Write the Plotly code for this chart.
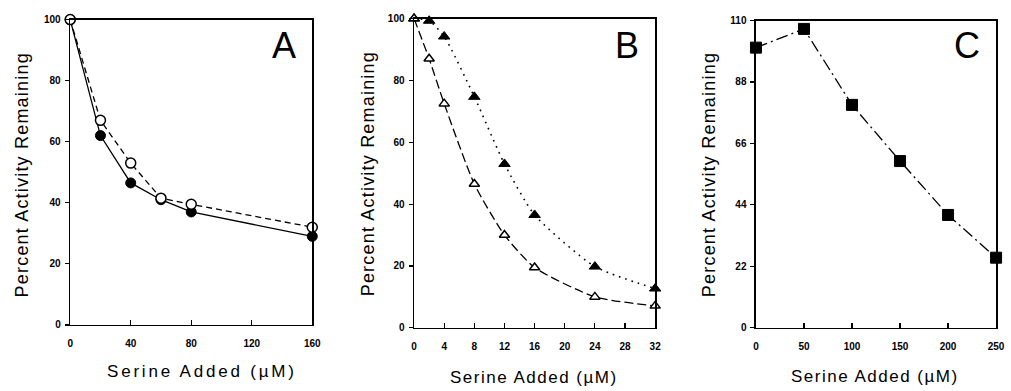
import plotly.graph_objects as go

# ---------------- data ----------------
# Panel A
a_serine = [0, 20, 40, 60, 80, 160]
a_filled = [100, 62, 46.5, 41, 37, 29]
a_open = [100, 67, 53, 41.5, 39.5, 32]
a_xticks = [0, 40, 80, 120, 160]
a_yticks = [0, 20, 40, 60, 80, 100]

# Panel B
b_serine = [0, 2, 4, 8, 12, 16, 24, 32]
b_filled = [100, 99.3, 94.2, 74.7, 53, 36.5, 19.8, 12.7]
b_open = [100, 87, 72.5, 46.5, 30, 19.5, 10, 7.1]
b_xticks = [0, 4, 8, 12, 16, 20, 24, 28, 32]
b_yticks = [0, 20, 40, 60, 80, 100]

# Panel C
c_serine = [0, 50, 100, 150, 200, 250]
c_filled = [100.3, 107, 79.8, 59.7, 40.4, 25.1]
c_xticks = [0, 50, 100, 150, 200, 250]
c_yticks = [0, 22, 44, 66, 88, 110]

panel_letters = ["A", "B", "C"]
x_title = "Serine Added (µM)"
y_title = "Percent Activity Remaining"

# ---------------- layout geometry (pixels) ----------------
W, H = 1011, 391
boxes = [  # left, right, top, bottom
    (68, 313, 14, 329),
    (416, 660, 13, 332),
    (762, 1005, 15, 332),
]
xtitle_pos = [(201, 377, 2.8), (537, 383, 1.5), (882, 382, 1.5)]  # centre x, centre y, letter spacing
ytitle_pos = [(19, 174), (369, 173), (714, 174)]                   # centre x, centre y

FONT = "Liberation Sans, Arial, Helvetica, sans-serif"
BLACK = "#000000"

fig = go.Figure()

# Panel A traces
fig.add_trace(go.Scatter(
    x=a_serine, y=a_filled, xaxis="x", yaxis="y", mode="lines+markers",
    line=dict(color=BLACK, width=1.3),
    marker=dict(symbol="circle", size=10, color=BLACK, line=dict(color=BLACK, width=1)),
    cliponaxis=False, showlegend=False))
fig.add_trace(go.Scatter(
    x=a_serine, y=a_open, xaxis="x", yaxis="y", mode="lines+markers",
    line=dict(color=BLACK, width=1.3, dash="6px,4px"),
    marker=dict(symbol="circle", size=10, color="white", line=dict(color=BLACK, width=1.5)),
    cliponaxis=False, showlegend=False))

# Panel B traces
fig.add_trace(go.Scatter(
    x=b_serine, y=b_filled, xaxis="x2", yaxis="y2", mode="lines+markers",
    line=dict(color=BLACK, width=1.6, dash="1.6px,5px", shape="spline", smoothing=0.6),
    marker=dict(symbol="triangle-up", size=10, color=BLACK, line=dict(color=BLACK, width=1)),
    cliponaxis=False, showlegend=False))
fig.add_trace(go.Scatter(
    x=b_serine, y=b_open, xaxis="x2", yaxis="y2", mode="lines+markers",
    line=dict(color=BLACK, width=1.3, dash="9px,4px", shape="spline", smoothing=0.6),
    marker=dict(symbol="triangle-up", size=9, color="white", line=dict(color=BLACK, width=1.5)),
    cliponaxis=False, showlegend=False))

# Panel C trace
fig.add_trace(go.Scatter(
    x=c_serine, y=c_filled, xaxis="x3", yaxis="y3", mode="lines+markers",
    line=dict(color=BLACK, width=1.3, dash="12px,4px,2px,4px"),
    marker=dict(symbol="square", size=11, color=BLACK, line=dict(color=BLACK, width=1)),
    cliponaxis=False, showlegend=False))

ranges = [
    ([0, 160], [0, 100], a_xticks, a_yticks),
    ([0, 32], [0, 100], b_xticks, b_yticks),
    ([0, 250], [0, 110], c_xticks, c_yticks),
]

annotations = []
layout_axes = {}
for i, ((l, r, t, b), (xr, yr, xt, yt)) in enumerate(zip(boxes, ranges)):
    sfx = "" if i == 0 else str(i + 1)
    xd = [l / W, r / W]
    yd = [1 - b / H, 1 - t / H]
    layout_axes["xaxis" + sfx] = dict(
        domain=xd, range=xr, anchor="y" + sfx, tickvals=xt,
        ticks="inside", ticklen=5, tickwidth=1.2, tickcolor=BLACK,
        showline=True, linecolor=BLACK, linewidth=1.5, mirror=True,
        showgrid=False, zeroline=False, ticklabelstandoff=9,
        tickfont=dict(family=FONT, size=10, color=BLACK, weight="bold"),
    )
    layout_axes["yaxis" + sfx] = dict(
        domain=yd, range=yr, anchor="x" + sfx, tickvals=yt,
        ticks="outside", ticklen=4, tickwidth=1.2, tickcolor=BLACK,
        showline=True, linecolor=BLACK, linewidth=1.5, mirror=True,
        showgrid=False, zeroline=False, ticklabelstandoff=2,
        tickfont=dict(family=FONT, size=10, color=BLACK, weight="bold"),
    )
    cx, cy, ls = xtitle_pos[i]
    # x-axis title
    annotations.append(dict(
        text='<span style="letter-spacing:%.1fpx">' % ls + x_title + "</span>",
        xref="paper", yref="paper", x=cx / W, y=1 - cy / H,
        xanchor="center", yanchor="middle", showarrow=False,
        font=dict(family=FONT, size=17, color=BLACK)))
    # y-axis title
    tx, ty = ytitle_pos[i]
    annotations.append(dict(
        text='<span style="letter-spacing:1.2px">' + y_title + "</span>",
        xref="paper", yref="paper", x=tx / W, y=1 - ty / H,
        xanchor="center", yanchor="middle", textangle=-90, showarrow=False,
        font=dict(family=FONT, size=18, color=BLACK)))
    # panel letter
    annotations.append(dict(
        text=panel_letters[i], xref="paper", yref="paper",
        x=(r - 29) / W, y=1 - 41 / H, xanchor="center", yanchor="middle",
        showarrow=False, font=dict(family=FONT, size=36, color=BLACK)))

fig.update_layout(
    width=W, height=H,
    margin=dict(l=0, r=0, t=0, b=0),
    paper_bgcolor="white", plot_bgcolor="white",
    annotations=annotations,
    **layout_axes,
)

# remove the default 8px page margin so the 1011x391 figure fills the window exactly
post = (
    "document.documentElement.style.cssText='margin:0;padding:0;overflow:hidden;';"
    "document.body.style.cssText='margin:0;padding:0;overflow:hidden;';"
    "var gd=document.getElementById('{plot_id}');"
    "gd.style.position='fixed';gd.style.left='0px';gd.style.top='0px';"
)

fig.write_html(
    "out.html",
    config={"displayModeBar": False, "staticPlot": True},
    post_script=post,
)
